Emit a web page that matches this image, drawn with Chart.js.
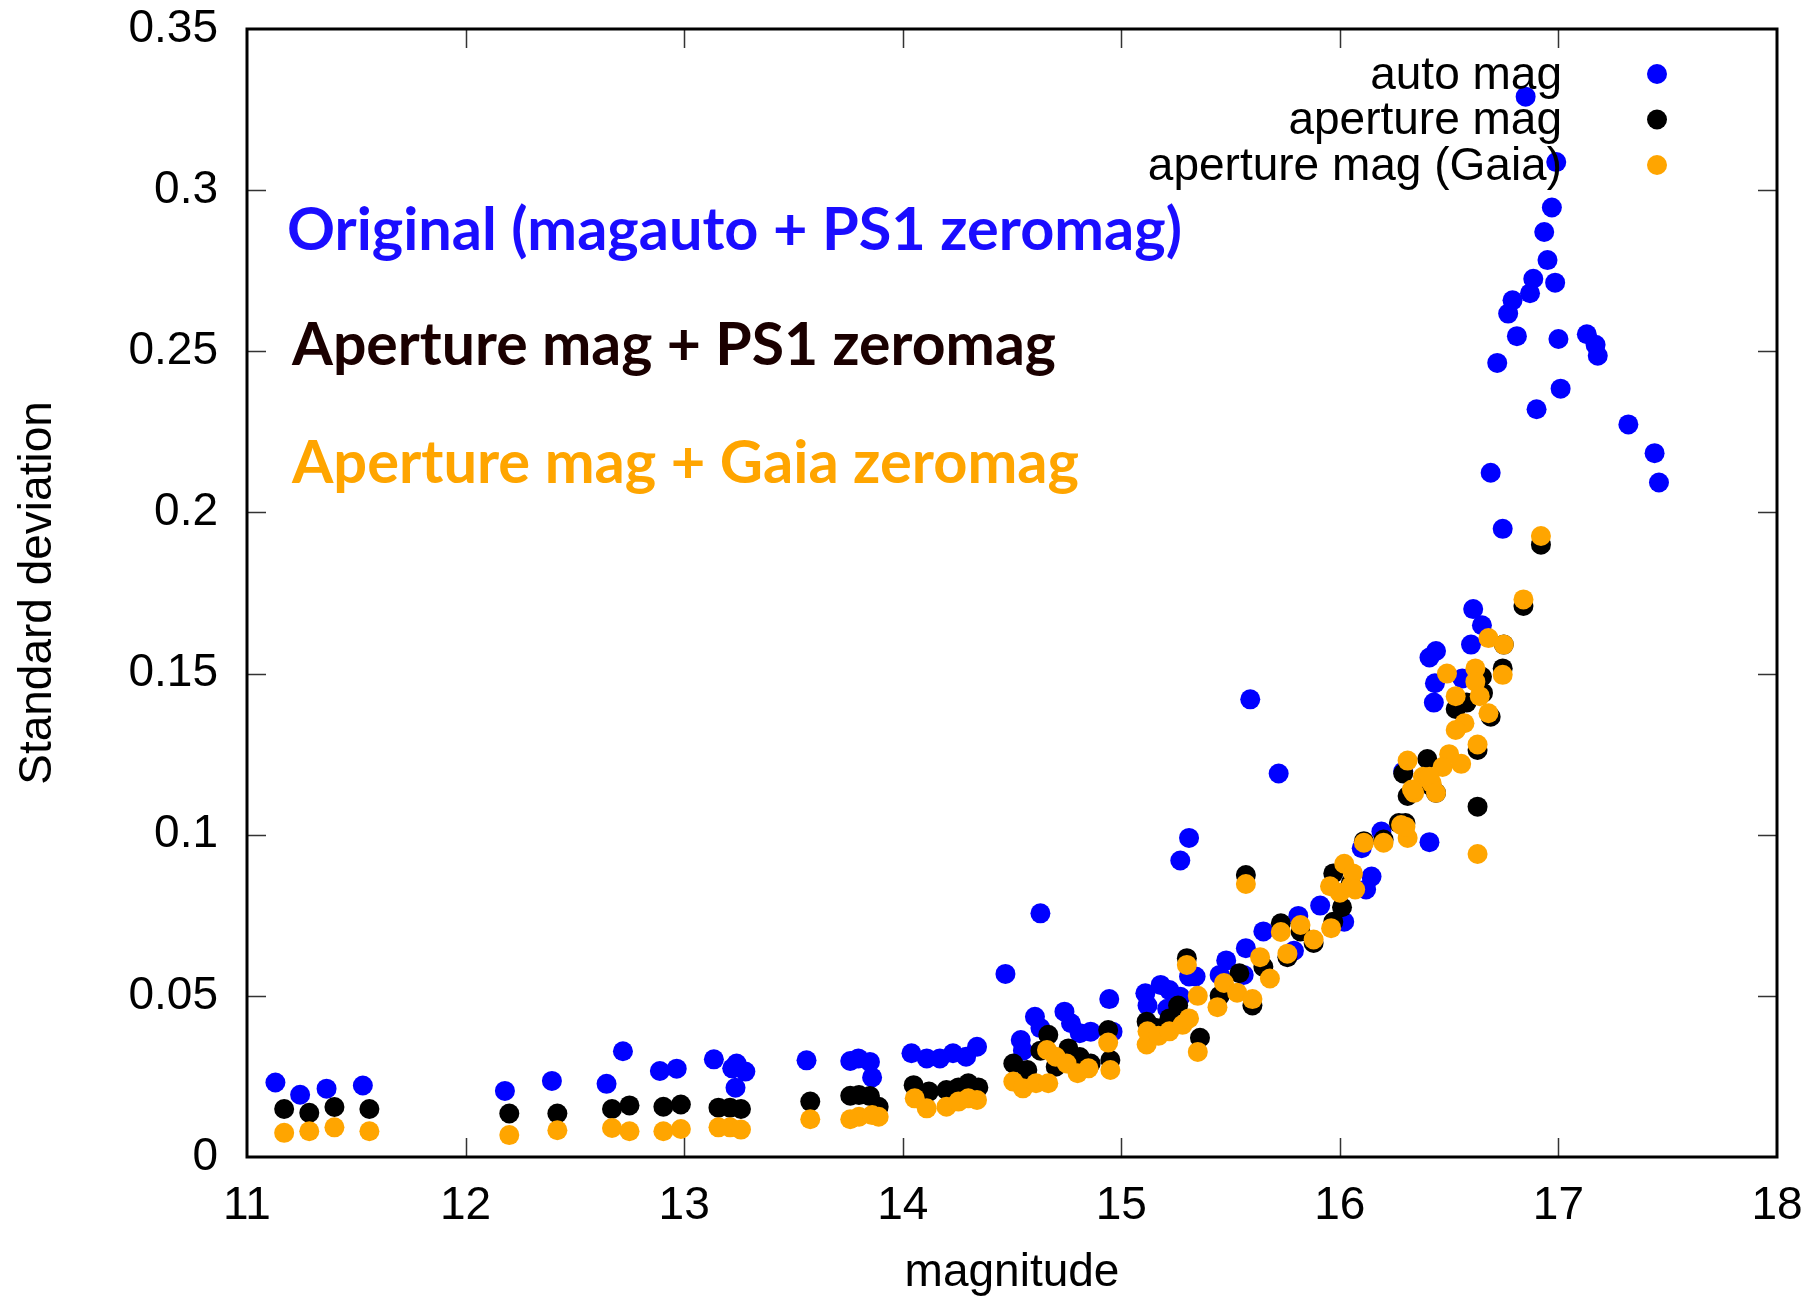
<!DOCTYPE html>
<html>
<head>
<meta charset="utf-8">
<script src="https://cdn.jsdelivr.net/npm/chart.js@4/dist/chart.umd.min.js"></script>
<style>
  html, body { margin: 0; padding: 0; background: #fff; }
  #wrap { width: 1818px; height: 1296px; }
</style>
</head>
<body>
<div id="wrap"><canvas id="chart" width="1818" height="1296"></canvas></div>
<script>
// auto mag (blue)
const autoMagX = [11.13, 11.243, 11.364, 11.53, 12.18, 12.395, 12.645, 12.72, 12.889, 12.966,
  13.136, 13.24, 13.22, 13.28, 13.235, 13.56, 13.76, 13.797, 13.85, 13.86,
  14.04, 14.11, 14.17, 14.23, 14.29, 14.34, 14.47, 14.63, 14.54, 14.605,
  14.55, 14.63, 14.74, 14.77, 14.81, 14.86, 14.945, 14.96, 15.11, 15.18,
  15.22, 15.12, 15.21, 15.27, 15.31, 15.59, 15.72, 15.31, 15.27, 15.34,
  15.48, 15.57, 15.65, 15.81, 15.91, 15.45, 15.56, 15.79, 16.02, 16.10,
  16.145, 16.12, 16.19, 16.41, 16.29, 16.41, 16.44, 16.435, 16.43, 16.61,
  16.65, 16.60, 16.56, 16.85, 16.99, 16.97, 16.935, 16.95, 16.885, 16.985,
  16.87, 16.79, 16.77, 16.81, 17.00, 16.72, 17.13, 17.17, 17.18, 17.01,
  16.90, 17.32, 17.44, 17.46, 16.69, 16.745];
const autoMagY = [0.0231, 0.0193, 0.0212, 0.0222, 0.0205, 0.0236, 0.0227, 0.0328, 0.0267, 0.0274,
  0.0303, 0.029, 0.0275, 0.0265, 0.0215, 0.030, 0.0298, 0.0306, 0.0295, 0.0247,
  0.0322, 0.0306, 0.0306, 0.0322, 0.0311, 0.0342, 0.0568, 0.0756, 0.0363, 0.0435,
  0.033, 0.040, 0.0451, 0.0415, 0.0384, 0.0389, 0.049, 0.0389, 0.0508, 0.0534,
  0.0518, 0.047, 0.046, 0.0497, 0.056, 0.142, 0.119, 0.099, 0.092, 0.056,
  0.061, 0.0648, 0.070, 0.0748, 0.078, 0.0565, 0.0565, 0.064, 0.073, 0.0958,
  0.087, 0.083, 0.101, 0.0977, 0.1196, 0.155, 0.157, 0.147, 0.141, 0.170,
  0.165, 0.159, 0.1485, 0.329, 0.3087, 0.2946, 0.287, 0.2783, 0.2725, 0.2713,
  0.268, 0.2658, 0.2617, 0.2547, 0.2538, 0.2464, 0.2553, 0.252, 0.2486, 0.2384,
  0.232, 0.2273, 0.2184, 0.2093, 0.2123, 0.1949];

// aperture mag (black)
const apMagX = [11.17, 11.285, 11.40, 11.56, 12.20, 12.42, 12.67, 12.75, 12.905, 12.985,
  13.157, 13.21, 13.26, 13.577, 13.76, 13.80, 13.85, 13.89, 14.05, 14.12,
  14.20, 14.255, 14.30, 14.346, 14.506, 14.57, 14.666, 14.63, 14.758, 14.70,
  14.73, 14.81, 14.86, 14.94, 14.95, 15.116, 15.22, 15.30, 15.36, 15.16,
  15.26, 15.57, 15.60, 15.54, 15.73, 15.76, 15.88, 15.97, 15.97, 16.01,
  16.27, 16.40, 16.29, 16.42, 16.92, 16.84, 16.75, 16.745, 16.65, 16.655,
  16.53, 16.58, 16.69, 16.63, 16.44, 16.31, 16.63, 16.30, 16.11, 16.20,
  15.45, 15.65, 15.82, 16.05];
const apMagY = [0.0149, 0.0137, 0.0155, 0.0149, 0.0135, 0.0135, 0.0149, 0.016, 0.0156, 0.0163,
  0.0153, 0.0153, 0.0149, 0.0172, 0.019, 0.0192, 0.0189, 0.0156, 0.0223, 0.0203,
  0.0208, 0.0216, 0.0229, 0.0216, 0.029, 0.027, 0.0379, 0.033, 0.0337, 0.028,
  0.030, 0.031, 0.029, 0.0394, 0.0301, 0.042, 0.043, 0.0617, 0.037, 0.040,
  0.047, 0.0875, 0.047, 0.057, 0.0725, 0.062, 0.0664, 0.073, 0.088, 0.0775,
  0.1036, 0.1235, 0.119, 0.115, 0.190, 0.171, 0.159, 0.1516, 0.149, 0.144,
  0.139, 0.141, 0.1366, 0.1263, 0.113, 0.112, 0.1087, 0.1036, 0.098, 0.0985,
  0.050, 0.059, 0.070, 0.085];

// aperture mag (Gaia) (orange)
const gaiaMagX = [11.17, 11.285, 11.40, 11.56, 12.20, 12.42, 12.67, 12.75, 12.905, 12.985,
  13.157, 13.21, 13.26, 13.577, 13.76, 13.80, 13.86, 13.89, 14.055, 14.11,
  14.20, 14.255, 14.30, 14.34, 14.506, 14.55, 14.61, 14.666, 14.66, 14.70,
  14.75, 14.80, 14.85, 14.94, 14.95, 15.116, 15.12, 15.17, 15.22, 15.28,
  15.31, 15.35, 15.35, 15.30, 15.44, 15.47, 15.53, 15.60, 15.635, 15.68,
  15.73, 15.76, 15.82, 15.88, 15.96, 16.00, 16.05, 16.02, 15.955, 16.11,
  16.20, 16.31, 16.28, 16.31, 15.57, 16.34, 16.42, 16.38, 16.84, 16.68,
  16.75, 16.62, 16.62, 16.64, 16.68, 16.745, 16.49, 16.53, 16.57, 16.53,
  16.63, 16.555, 16.50, 16.47, 16.41, 16.44, 16.33, 16.63, 16.30, 16.06,
  16.07, 16.92];
const gaiaMagY = [0.0075, 0.0080, 0.0092, 0.0080, 0.0068, 0.0083, 0.0090, 0.0080, 0.0080, 0.0087,
  0.0092, 0.0092, 0.0085, 0.0117, 0.0117, 0.0125, 0.013, 0.0125, 0.0182, 0.0151,
  0.0156, 0.0172, 0.0182, 0.0177, 0.0234, 0.0213, 0.0229, 0.0229, 0.0332, 0.0311,
  0.029, 0.026, 0.0275, 0.0355, 0.027, 0.0349, 0.039, 0.0376, 0.039, 0.041,
  0.043, 0.0326, 0.050, 0.0596, 0.0465, 0.054, 0.051, 0.049, 0.062, 0.0554,
  0.0698, 0.0631, 0.072, 0.0675, 0.071, 0.082, 0.084, 0.091, 0.084, 0.0975,
  0.0975, 0.099, 0.103, 0.123, 0.0847, 0.113, 0.116, 0.118, 0.173, 0.161,
  0.159, 0.1516, 0.1475, 0.143, 0.1377, 0.1496, 0.150, 0.143, 0.1346, 0.1325,
  0.128, 0.122, 0.125, 0.121, 0.118, 0.113, 0.114, 0.094, 0.1025, 0.088,
  0.083, 0.1927];

const seriesNames = ['auto mag', 'aperture mag', 'aperture mag (Gaia)'];
const seriesColors = ['#0000ff', '#000000', '#ffa500'];
const notes = ['Original (magauto + PS1 zeromag)', 'Aperture mag + PS1 zeromag', 'Aperture mag + Gaia zeromag'];
const noteColors = ['#1a0dff', '#1a0000', '#ffa500'];

const xMin = 11, xMax = 18, xStep = 1;
const yMin = 0, yMax = 0.35, yStep = 0.05;

function pts(xs, ys) {
    return xs.map((x, i) => ({x: x, y: ys[i]}));
}

const axisFont = {family: '"Liberation Sans", Arial, sans-serif', size: 46, lineHeight: 1};

// frame, inward ticks on all four sides, notes and legend
const decor = {
    id: 'decor',
    afterDatasetsDraw(chart) {
        const ctx = chart.ctx;
        const a = chart.chartArea;
        const xs = chart.scales.x, ys = chart.scales.y;
        ctx.save();

        ctx.strokeStyle = '#333';
        ctx.lineWidth = 1.5;
        const tl = 19;
        ctx.beginPath();
        for (let v = xMin + xStep; v < xMax; v += xStep) {
            const px = Math.round(xs.getPixelForValue(v)) + 0.5;
            ctx.moveTo(px, a.bottom); ctx.lineTo(px, a.bottom - tl);
            ctx.moveTo(px, a.top); ctx.lineTo(px, a.top + tl);
        }
        for (let v = yMin + yStep; v < yMax - 1e-9; v += yStep) {
            const py = Math.round(ys.getPixelForValue(v)) + 0.5;
            ctx.moveTo(a.left, py); ctx.lineTo(a.left + tl, py);
            ctx.moveTo(a.right, py); ctx.lineTo(a.right - tl, py);
        }
        ctx.stroke();

        ctx.strokeStyle = '#000';
        ctx.lineWidth = 3;
        ctx.strokeRect(a.left, a.top, a.right - a.left, a.bottom - a.top);

        // notes, squeezed to the width they take in the figure
        const noteX = [287, 292, 292];
        const noteBase = [250, 365, 483];
        const noteW = [895, 764, 787];
        ctx.font = 'bold 60px Lato, "Open Sans", sans-serif';
        ctx.textBaseline = 'alphabetic';
        ctx.textAlign = 'left';
        notes.forEach((t, i) => {
            const w = ctx.measureText(t).width;
            ctx.save();
            ctx.translate(noteX[i], noteBase[i]);
            ctx.scale(noteW[i] / w, 1);
            ctx.fillStyle = noteColors[i];
            ctx.fillText(t, 0, 0);
            ctx.restore();
        });

        // legend
        ctx.font = '46px "Liberation Sans", Arial, sans-serif';
        ctx.textAlign = 'right';
        ctx.textBaseline = 'middle';
        seriesNames.forEach((n, i) => {
            const y = 74 + i * 45.5;
            ctx.fillStyle = '#000';
            ctx.fillText(n, 1562, y + 2);
            ctx.beginPath();
            ctx.arc(1657, y, 10, 0, Math.PI * 2);
            ctx.fillStyle = seriesColors[i];
            ctx.fill();
        });

        ctx.restore();
    }
};

new Chart(document.getElementById('chart'), {
    type: 'scatter',
    data: {
        datasets: [
            {label: seriesNames[0], data: pts(autoMagX, autoMagY), backgroundColor: seriesColors[0], order: 3},
            {label: seriesNames[1], data: pts(apMagX, apMagY), backgroundColor: seriesColors[1], order: 2},
            {label: seriesNames[2], data: pts(gaiaMagX, gaiaMagY), backgroundColor: seriesColors[2], order: 1}
        ]
    },
    options: {
        responsive: false,
        devicePixelRatio: 1,
        animation: false,
        layout: {padding: {top: 29, right: 41, left: 0, bottom: 0}},
        elements: {point: {radius: 10, borderWidth: 0, hoverRadius: 10}},
        plugins: {legend: {display: false}, tooltip: {enabled: false}},
        scales: {
            x: {
                type: 'linear',
                min: xMin, max: xMax,
                grid: {display: false, drawTicks: false},
                border: {display: false},
                ticks: {stepSize: xStep, color: '#000', font: axisFont, padding: 26, maxRotation: 0},
                title: {display: true, text: 'magnitude', color: '#000', font: axisFont, padding: {top: 0, bottom: 0}},
                afterFit: s => {
                    s.height = 139;
                    s.paddingLeft = 0; s.paddingRight = 0;
                }
            },
            y: {
                min: yMin, max: yMax,
                grid: {display: false, drawTicks: false},
                border: {display: false},
                ticks: {
                    stepSize: yStep, color: '#000', font: axisFont, padding: 29,
                    callback: v => String(parseFloat(v.toFixed(2)))
                },
                title: {display: true, text: 'Standard deviation', color: '#000', font: axisFont, padding: {top: 15, bottom: 0}},
                afterFit: s => {
                    s.width = 247;
                    s.paddingTop = 0; s.paddingBottom = 0;
                }
            }
        }
    },
    plugins: [decor]
});
</script>
</body>
</html>
